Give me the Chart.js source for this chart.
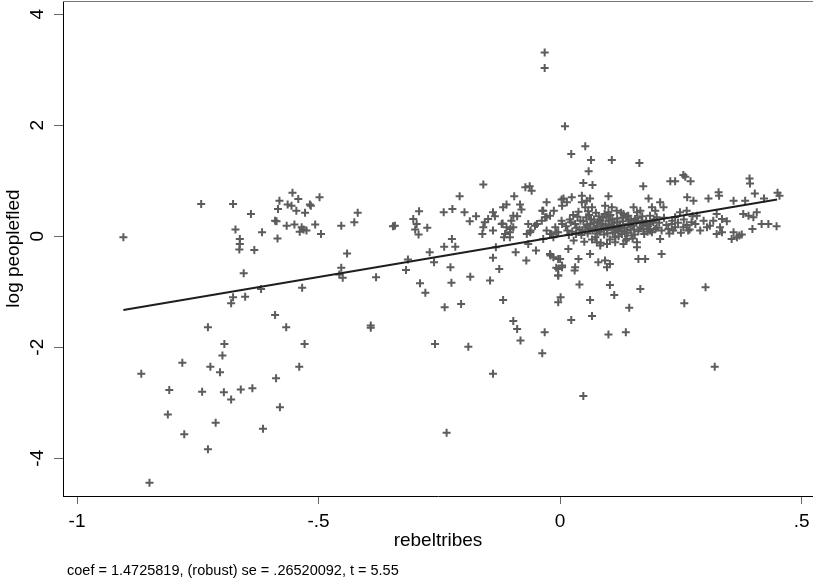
<!DOCTYPE html>
<html>
<head>
<meta charset="utf-8">
<script src="https://cdn.jsdelivr.net/npm/chart.js@4"></script>
<style>
  html, body { margin: 0; padding: 0; background: #fff; }
  #wrap { width: 813px; height: 582px; position: relative; }
</style>
</head>
<body>
<div id="wrap"><canvas id="avplot"></canvas></div>
<script>
// added-variable plot: log peoplefled vs rebeltribes
const xTicks = [-1, -0.5, 0, 0.5];
const xTickLabels = ['-1', '-.5', '0', '.5'];
const yTicks = [-4, -2, 0, 2, 4];
const yTickLabels = ['-4', '-2', '0', '2', '4'];

const coef = 1.4725819;
const fitX = [-0.904, 0.449];
const noteText = 'coef = 1.4725819, (robust) se = .26520092, t = 5.55';

// points, [rebeltribes, log peoplefled]
const leftPts = [
  [-0.904,-0.02],[-0.743,0.58],[-0.677,0.58],[-0.640,0.40],[-0.672,0.12],[-0.663,-0.05],[-0.663,-0.14],
  [-0.664,-0.24],[-0.633,-0.25],[-0.617,0.07],[-0.585,-0.04],[-0.655,-0.67],[-0.677,-1.10],[-0.681,-1.21],
  [-0.652,-1.09],[-0.619,-0.95],[-0.534,-0.93],[-0.590,-1.42],[-0.567,-1.64],[-0.729,-1.64],[-0.695,-1.94],
  [-0.529,-1.94],[-0.554,0.78],[-0.542,0.67],[-0.581,0.64],[-0.564,0.57],[-0.556,0.55],[-0.584,0.49],
  [-0.546,0.46],[-0.528,0.42],[-0.518,0.57],[-0.590,0.28],[-0.587,0.27],[-0.566,0.19],[-0.550,0.21],
  [-0.535,0.16],[-0.531,0.12],[-0.539,0.08],[-0.525,0.10],[-0.498,0.70],[-0.516,0.55],[-0.507,0.21],
  [-0.495,0.04],[-0.453,0.19],[-0.426,0.25],[-0.419,0.42],[-0.441,-0.31],[-0.453,-0.57],[-0.457,-0.69],
  [-0.450,-0.75]
];
const lowLeftPts = [
  [-0.867,-2.48],[-0.782,-2.28],[-0.809,-2.77],[-0.812,-3.21],[-0.778,-3.57],[-0.850,-4.44],[-0.741,-2.80],
  [-0.724,-2.35],[-0.704,-2.45],[-0.699,-2.15],[-0.696,-2.81],[-0.681,-2.94],[-0.661,-2.76],[-0.637,-2.74],
  [-0.713,-3.36],[-0.729,-3.84],[-0.615,-3.47],[-0.588,-2.56],[-0.580,-3.08],[-0.540,-2.35]
];
const midPts = [
  [-0.381,-0.74],[-0.346,0.18],[-0.342,0.19],[-0.292,0.45],[-0.304,0.31],[-0.297,0.22],[-0.300,0.12],
  [-0.293,0.03],[-0.275,0.15],[-0.315,-0.42],[-0.319,-0.61],[-0.270,-0.29],[-0.261,-0.47],[-0.290,-0.85],
  [-0.279,-1.02],[-0.392,-1.61],[-0.392,-1.65],[-0.241,0.43],[-0.223,0.49],[-0.208,0.72],[-0.198,0.43],
  [-0.187,0.27],[-0.174,0.36],[-0.159,0.93],[-0.224,-0.05],[-0.240,-0.19],[-0.217,-0.19],[-0.227,-0.56],
  [-0.225,-0.84],[-0.186,-0.73],[-0.239,-1.28],[-0.205,-1.22],[-0.145,-0.80],[-0.139,-0.39],[-0.126,-0.59],
  [-0.133,-0.20],[-0.159,0.16],[-0.161,0.04],[-0.156,0.25],[-0.139,0.43],[-0.135,0.36],[-0.149,0.31],
  [-0.139,0.10],[-0.118,0.52],[-0.111,0.57],[-0.095,0.72],[-0.083,0.57],[-0.080,0.48],[-0.089,0.36],
  [-0.119,0.23],[-0.111,0.16],[-0.101,0.28],[-0.097,0.16],[-0.104,0.07],[-0.114,0.04],[-0.104,-0.02],
  [-0.072,0.88],[-0.063,0.90],[-0.059,0.82],[-0.066,0.22],[-0.061,0.10],[-0.052,0.19],[-0.092,-0.29],
  [-0.066,-0.14],[-0.050,-0.26],[-0.070,-0.44],[-0.118,-1.15],[-0.097,-1.53],[-0.089,-1.67],
  [-0.259,-1.94],[-0.190,-1.99],[-0.235,-3.54],[-0.139,-2.48],[-0.082,-1.88],[-0.032,-1.73],[-0.037,-2.11],
  [-0.116,-0.02],[-0.103,0.13],[-0.121,0.22],[-0.097,0.37],[-0.069,0.04],[-0.062,0.07],[-0.048,0.22],
  [-0.032,3.31],[-0.032,3.03]
];
const nearZeroPts = [
  [-0.037,0.46],[-0.028,0.61],[-0.028,0.34],[-0.013,0.46],[0.003,0.66],[-0.018,0.04],[-0.008,0.07],
  [0.003,0.28],[-0.020,-0.35],[-0.004,-0.41],[-0.008,-0.57],[-0.004,-0.71],[0.001,-1.10],[-0.004,-1.19],
  [-0.031,0.34],[-0.021,0.37],[-0.038,0.28],[-0.035,0.46],[-0.028,0.10],[-0.021,0.04],[-0.014,-0.02],
  [-0.004,0.07],[-0.035,-0.05],[-0.010,0.16],[0.004,0.22],[-0.021,-0.32],[-0.014,-0.38],[0.000,-0.41],
  [0.004,-0.53],[0.004,-0.56],[-0.004,-0.59],[-0.004,-0.71]
];
const upperPts = [
  [0.010,1.98],[0.023,1.48],[0.052,1.62],[0.064,1.37],[0.059,1.17],[0.107,1.37],[0.164,1.32],[0.048,0.96],
  [0.067,0.92],[0.172,0.90],[0.100,0.72],[0.228,0.99],[0.238,0.99],[0.255,1.10],[0.259,1.07],[0.270,0.99],
  [0.392,1.04],[0.393,0.95],[0.403,0.77],[0.328,0.79],[0.329,0.73],[0.307,0.68],[0.263,0.70],[0.276,0.64],
  [0.183,0.68],[0.359,0.64],[0.383,0.64],[0.422,0.68],[0.450,0.78],[0.454,0.73],
  [0.007,0.68],[0.014,0.61],[0.024,0.70],[0.004,0.55],[0.045,0.73],[0.045,0.61],[0.055,0.64],[0.062,0.68],
  [0.052,0.52],[0.066,0.52],[0.093,0.55],[0.107,0.52],[0.117,0.46],[0.100,0.43],[0.131,0.40],[0.141,0.37]
];
const rightPts = [
  [0.448,0.18],[0.431,0.22],[0.417,0.22],[0.398,0.13],[0.407,0.43],[0.400,0.34],[0.390,0.37],[0.379,0.40],
  [0.359,0.07],[0.371,0.01],[0.376,0.03],[0.355,-0.05],[0.366,-0.02],[0.345,0.27],[0.335,0.31],[0.324,0.40],
  [0.317,0.28],[0.331,0.16],[0.310,0.19],[0.324,0.04],[0.335,0.07],[0.304,0.16],[0.297,0.28],[0.290,0.10],
  [0.283,0.37],[0.272,0.25],[0.265,0.10],[0.255,0.16],[0.262,0.46],[0.248,0.43],[0.238,0.34],[0.231,0.22],
  [0.234,0.10],[0.224,0.13],[0.207,-0.05],[0.210,-0.32],[0.214,0.52],[0.207,0.61],[0.197,0.46],[0.190,0.52],
  [0.186,0.37],[0.200,0.34],[0.193,0.25],[0.179,0.22],[0.172,0.13],[0.186,0.10],[0.197,0.13],[0.159,-0.20],
  [0.162,-0.41],[0.176,-0.41],[0.159,-0.11],[0.152,0.52],[0.159,0.43],[0.166,0.46],[0.155,0.31],[0.169,0.28],
  [0.145,0.22],[0.138,0.10],[0.148,0.01],[0.138,-0.05],[0.128,0.04]
];
const corePts = [
  [0.012,0.18],[0.020,0.30],[0.025,0.08],[0.031,0.22],[0.036,0.35],[0.040,0.12],[0.044,0.02],[0.048,0.27],
  [0.052,0.16],[0.057,0.05],[0.060,0.38],[0.063,0.22],[0.067,0.10],[0.070,0.30],[0.073,-0.02],[0.076,0.18],
  [0.079,0.26],[0.082,0.08],[0.085,0.14],[0.088,0.33],[0.091,0.03],[0.094,0.21],[0.097,0.11],[0.100,0.28],
  [0.103,-0.06],[0.106,0.17],[0.109,0.06],[0.112,0.24],[0.115,0.13],[0.118,0.32],[0.121,0.00],[0.124,0.20],
  [0.127,0.09],[0.130,0.27],[0.133,0.15],[0.136,-0.08],[0.139,0.06],[0.142,0.30],[0.146,0.12],[0.150,0.19],
  [0.154,0.03],[0.158,0.25],[0.162,0.09],[0.166,0.16],[0.170,0.36],[0.174,0.04],[0.178,0.28],[0.182,0.18],
  [0.186,0.22],[0.190,0.07],[0.195,0.30],[0.200,0.15],[0.205,0.24],[0.210,0.10],[0.215,0.33],[0.220,0.20],
  [0.226,0.05],[0.232,0.28],[0.238,0.16],[0.244,0.24],[0.250,0.06],[0.256,0.30],[0.262,0.20],[0.268,0.12],
  [0.274,0.36],[0.280,0.22],[0.018,0.02],[0.028,-0.08],[0.038,0.44],[0.050,-0.10],[0.058,0.45],[0.066,-0.06],
  [0.074,0.42],[0.084,-0.12],[0.092,0.40],[0.104,0.38],[0.114,-0.02],[0.126,0.42],[0.138,0.36],[0.150,-0.04],
  [0.088,0.22],[0.072,0.14],[0.056,0.20],[0.110,0.18],[0.120,0.10],[0.098,0.05],[0.080,0.36],[0.064,0.30],
  [0.046,0.10],[0.034,0.15],[0.022,0.25],
  [0.015,0.10],[0.027,0.38],[0.033,0.04],[0.042,0.28],[0.054,0.34],[0.061,0.13],[0.069,0.24],[0.077,0.05],
  [0.083,0.29],[0.090,0.15],[0.096,0.35],[0.101,0.20],[0.108,0.30],[0.113,0.07],[0.119,0.25],[0.123,0.14],
  [0.129,0.33],[0.134,0.05],[0.141,0.22],[0.147,0.28],[0.153,0.12],[0.160,0.33],[0.171,0.20],[0.181,0.08]
];
const lowRightPts = [
  [0.017,-0.23],[0.038,-0.41],[0.062,-0.32],[0.031,-0.56],[0.079,-0.47],[0.093,-0.44],[0.097,-0.56],
  [0.103,-0.50],[0.083,-0.17],[0.076,-0.11],[0.097,-0.14],[0.114,-0.11],[0.131,-0.14],[0.030,-0.62],
  [0.040,-0.87],[0.103,-0.88],[0.112,-1.06],[0.166,-0.95],[0.301,-0.92],[0.062,-1.15],[0.143,-1.29],
  [0.257,-1.21],[0.023,-1.51],[0.066,-1.44],[0.100,-1.77],[0.136,-1.73],[0.320,-2.35],[0.048,-2.88]
];

const allPts = [].concat(leftPts, lowLeftPts, midPts, nearZeroPts, upperPts, rightPts, corePts, lowRightPts)
  .map(([x, y]) => ({ x, y }));
const fitLine = fitX.map(x => ({ x, y: coef * x }));

const FONT = 'Liberation Sans, Arial, Helvetica, sans-serif';

// top frame line + the note under the axis
const framePlugin = {
  id: 'frame',
  afterDraw(chart) {
    const { ctx, chartArea } = chart;
    ctx.save();
    ctx.strokeStyle = '#777';
    ctx.lineWidth = 1;
    ctx.beginPath();
    ctx.moveTo(chartArea.left, chartArea.top + 0.5);
    ctx.lineTo(chartArea.right, chartArea.top + 0.5);
    ctx.stroke();
    ctx.fillStyle = '#000';
    ctx.font = '14.5px ' + FONT;
    ctx.textBaseline = 'alphabetic';
    ctx.textAlign = 'left';
    ctx.fillText(noteText, 67, 575);
    ctx.restore();
  }
};

new Chart(document.getElementById('avplot'), {
  type: 'scatter',
  data: {
    datasets: [
      {
        type: 'line',
        data: fitLine,
        borderColor: '#1e1e1e',
        borderWidth: 2,
        pointRadius: 0,
        fill: false,
        order: 0
      },
      {
        data: allPts,
        pointStyle: 'cross',
        pointRadius: 4,
        borderColor: '#5c5c5c',
        borderWidth: 2,
        order: 1
      }
    ]
  },
  options: {
    responsive: true,
    maintainAspectRatio: false,
    animation: false,
    events: [],
    layout: { autoPadding: false, padding: { left: 0, right: 0, top: 1, bottom: 0 } },
    plugins: { legend: { display: false }, tooltip: { enabled: false } },
    scales: {
      x: {
        type: 'linear',
        min: -1.029,
        max: 0.5234,
        afterBuildTicks: s => { s.ticks = xTicks.map(v => ({ value: v })); },
        afterFit: s => { s.height = 86; s.paddingLeft = 0; s.paddingRight = 0; },
        ticks: {
          color: '#000',
          font: { family: FONT, size: 19 },
          padding: 6,
          maxRotation: 0,
          callback: v => xTickLabels[xTicks.indexOf(v)]
        },
        grid: { drawOnChartArea: false, drawTicks: true, tickLength: 8, color: '#666', tickWidth: 1 },
        border: { display: true, color: '#000', width: 1 },
        title: {
          display: true,
          text: 'rebeltribes',
          color: '#000',
          font: { family: FONT, size: 19 },
          padding: { top: 0, bottom: 30 }
        }
      },
      y: {
        type: 'linear',
        min: -4.68,
        max: 4.236,
        afterBuildTicks: s => { s.ticks = yTicks.map(v => ({ value: v })); },
        afterFit: s => { s.width = 63; s.paddingTop = 0; s.paddingBottom = 0; },
        ticks: {
          color: '#000',
          font: { family: FONT, size: 19 },
          padding: 8,
          minRotation: 90,
          maxRotation: 90,
          crossAlign: 'center',
          callback: v => yTickLabels[yTicks.indexOf(v)]
        },
        grid: { drawOnChartArea: false, drawTicks: true, tickLength: 9, color: '#666', tickWidth: 1 },
        border: { display: true, color: '#000', width: 1 },
        title: {
          display: true,
          text: 'log peoplefled',
          color: '#000',
          font: { family: FONT, size: 19 },
          padding: { top: 2, bottom: 0 }
        }
      }
    }
  },
  plugins: [framePlugin]
});
</script>
</body>
</html>
